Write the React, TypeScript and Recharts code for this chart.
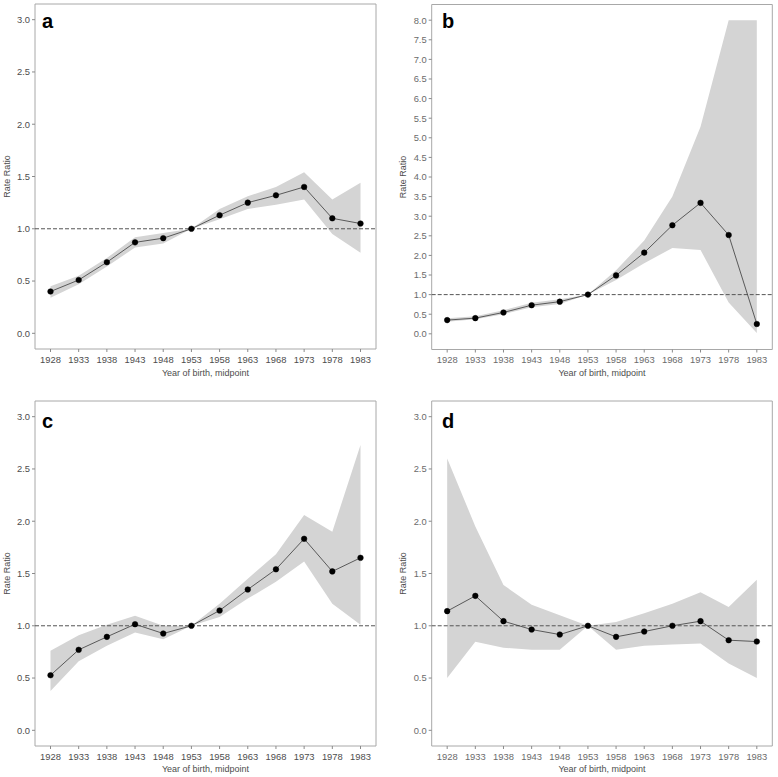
import React from 'react';
import { ComposedChart, Area, Line, XAxis, YAxis, ReferenceLine, ReferenceArea } from 'recharts';

const years = [1928, 1933, 1938, 1943, 1948, 1953, 1958, 1963, 1968, 1973, 1978, 1983];

const aRR = [0.40, 0.51, 0.68, 0.87, 0.91, 1.00, 1.13, 1.25, 1.32, 1.40, 1.10, 1.05];
const aLo = [0.34, 0.47, 0.64, 0.82, 0.86, 1.00, 1.09, 1.19, 1.23, 1.28, 0.95, 0.77];
const aHi = [0.45, 0.55, 0.72, 0.92, 0.96, 1.00, 1.19, 1.31, 1.40, 1.54, 1.28, 1.44];

const bRR = [0.35, 0.40, 0.545, 0.73, 0.82, 1.00, 1.49, 2.07, 2.77, 3.34, 2.52, 0.25];
const bLo = [0.31, 0.37, 0.50, 0.68, 0.76, 1.00, 1.37, 1.80, 2.19, 2.14, 0.80, 0.02];
const bHi = [0.40, 0.45, 0.60, 0.79, 0.88, 1.00, 1.62, 2.38, 3.50, 5.28, 8.00, 8.00];

const cRR = [0.527, 0.77, 0.894, 1.015, 0.926, 1.00, 1.146, 1.347, 1.54, 1.832, 1.52, 1.65];
const cLo = [0.377, 0.66, 0.81, 0.935, 0.87, 1.00, 1.085, 1.26, 1.42, 1.615, 1.21, 1.01];
const cHi = [0.76, 0.91, 1.01, 1.095, 1.00, 1.00, 1.21, 1.45, 1.685, 2.06, 1.90, 2.73];

const dRR = [1.14, 1.286, 1.044, 0.964, 0.916, 1.00, 0.894, 0.945, 1.00, 1.044, 0.862, 0.849];
const dLo = [0.50, 0.846, 0.79, 0.77, 0.77, 1.00, 0.77, 0.81, 0.82, 0.83, 0.64, 0.50];
const dHi = [2.60, 1.95, 1.39, 1.20, 1.10, 1.00, 1.035, 1.12, 1.21, 1.32, 1.18, 1.44];

const ticks3 = [0, 0.5, 1, 1.5, 2, 2.5, 3];
const ticks8 = [0, 0.5, 1, 1.5, 2, 2.5, 3, 3.5, 4, 4.5, 5, 5.5, 6, 6.5, 7, 7.5, 8];

const FONT = '"Liberation Sans", Arial, sans-serif';
const X_DOMAIN: [number, number] = [1925.25, 1985.75];

type PanelProps = {
  letter: string;
  rr: number[];
  lo: number[];
  hi: number[];
  yTicks: number[];
  yDomain: [number, number];
  left: number;
  top: number;
  width: number;
  height: number;
  margin: { top: number; right: number; left: number; bottom: number };
  yAxisWidth: number;
  xAxisHeight: number;
  tickColor: string;
  yTitleX: number;
  xTitleOffset: number;
  letterPos: { x: number; y: number };
};

function Panel(p: PanelProps) {
  const data = years.map((y, i) => ({ year: y, rr: p.rr[i], band: [p.lo[i], p.hi[i]] }));
  const tickStyle = { fill: p.tickColor, fontSize: 9.4, fontFamily: FONT };
  return (
    <div style={{ position: 'absolute', left: p.left, top: p.top, width: p.width, height: p.height }}>
      <ComposedChart width={p.width} height={p.height} data={data} margin={p.margin}>
        <XAxis
          dataKey="year"
          type="number"
          domain={X_DOMAIN}
          ticks={years}
          allowDataOverflow
          axisLine={false}
          tickLine={{ stroke: '#8a8a8a' }}
          tickSize={3}
          tickMargin={4}
          tick={tickStyle}
          height={p.xAxisHeight}
          interval={0}
          label={{
            content: (lp: any) => {
              const vb = lp.viewBox || {};
              return (
                <text
                  x={vb.x + vb.width / 2}
                  y={p.height - p.xTitleOffset}
                  textAnchor="middle"
                  fontSize={9}
                  fontFamily={FONT}
                  fill="#4d4d4d"
                >
                  Year of birth, midpoint
                </text>
              );
            },
          }}
        />
        <YAxis
          type="number"
          domain={p.yDomain}
          ticks={p.yTicks}
          allowDataOverflow
          axisLine={false}
          tickLine={{ stroke: '#8a8a8a' }}
          tickSize={3}
          tickMargin={2}
          tick={tickStyle}
          width={p.yAxisWidth}
          interval={0}
          tickFormatter={(v: number) => v.toFixed(1)}
          label={{
            content: (lp: any) => {
              const vb = lp.viewBox || {};
              const cx = p.yTitleX;
              const cy = vb.y + vb.height / 2;
              return (
                <text
                  x={cx}
                  y={cy}
                  transform={`rotate(-90 ${cx} ${cy})`}
                  textAnchor="middle"
                  dominantBaseline="central"
                  fontSize={9}
                  fontFamily={FONT}
                  fill="#4d4d4d"
                >
                  Rate Ratio
                </text>
              );
            },
          }}
        />
        <Area
          type="linear"
          dataKey="band"
          fill="#d4d4d4"
          fillOpacity={1}
          stroke="none"
          isAnimationActive={false}
          activeDot={false}
          dot={false}
        />
        <ReferenceLine y={1} stroke="#555555" strokeWidth={1} strokeDasharray="4 2" ifOverflow="visible" />
        <Line
          type="linear"
          dataKey="rr"
          stroke="#3a3a3a"
          strokeWidth={0.8}
          dot={{ r: 2.8, fill: '#000000', stroke: '#000000', strokeWidth: 0.5 }}
          activeDot={false}
          isAnimationActive={false}
        />
        <ReferenceArea
          x1={X_DOMAIN[0]}
          x2={X_DOMAIN[1]}
          y1={p.yDomain[0]}
          y2={p.yDomain[1]}
          fill="none"
          fillOpacity={0}
          stroke="#a8a8a8"
          strokeWidth={1}
          ifOverflow="visible"
        />
      </ComposedChart>
      <div
        style={{
          position: 'absolute',
          left: p.letterPos.x,
          top: p.letterPos.y,
          fontFamily: FONT,
          fontWeight: 'bold',
          fontSize: 20,
          lineHeight: '20px',
          color: '#000',
        }}
      >
        {p.letter}
      </div>
    </div>
  );
}

export default function App() {
  return (
    <div style={{ position: 'absolute', left: 0, top: 0, width: 778, height: 777, background: '#fff' }}>
      <Panel
        letter="a"
        rr={aRR}
        lo={aLo}
        hi={aHi}
        yTicks={ticks3}
        yDomain={[-0.15, 3.15]}
        left={0}
        top={0}
        width={390}
        height={390}
        margin={{ top: 4, right: 14, left: 0, bottom: 0 }}
        yAxisWidth={35}
        xAxisHeight={41}
        tickColor="#4d4d4d"
        yTitleX={6.5}
        xTitleOffset={14}
        letterPos={{ x: 42, y: 11 }}
      />
      <Panel
        letter="b"
        rr={bRR}
        lo={bLo}
        hi={bHi}
        yTicks={ticks8}
        yDomain={[-0.4, 8.4]}
        left={388}
        top={0}
        width={390}
        height={390}
        margin={{ top: 4.5, right: 5.7, left: 0, bottom: 0 }}
        yAxisWidth={43.7}
        xAxisHeight={40.5}
        tickColor="#6b6b6b"
        yTitleX={15}
        xTitleOffset={14}
        letterPos={{ x: 54, y: 11 }}
      />
      <Panel
        letter="c"
        rr={cRR}
        lo={cLo}
        hi={cHi}
        yTicks={ticks3}
        yDomain={[-0.15, 3.15]}
        left={0}
        top={390}
        width={390}
        height={387}
        margin={{ top: 11, right: 14, left: 0, bottom: 0 }}
        yAxisWidth={35}
        xAxisHeight={31}
        tickColor="#4d4d4d"
        yTitleX={6.5}
        xTitleOffset={5}
        letterPos={{ x: 42, y: 21 }}
      />
      <Panel
        letter="d"
        rr={dRR}
        lo={dLo}
        hi={dHi}
        yTicks={ticks3}
        yDomain={[-0.15, 3.15]}
        left={388}
        top={390}
        width={390}
        height={387}
        margin={{ top: 11, right: 5.7, left: 0, bottom: 0 }}
        yAxisWidth={43.7}
        xAxisHeight={31}
        tickColor="#6b6b6b"
        yTitleX={14.5}
        xTitleOffset={5}
        letterPos={{ x: 54, y: 21 }}
      />
    </div>
  );
}
